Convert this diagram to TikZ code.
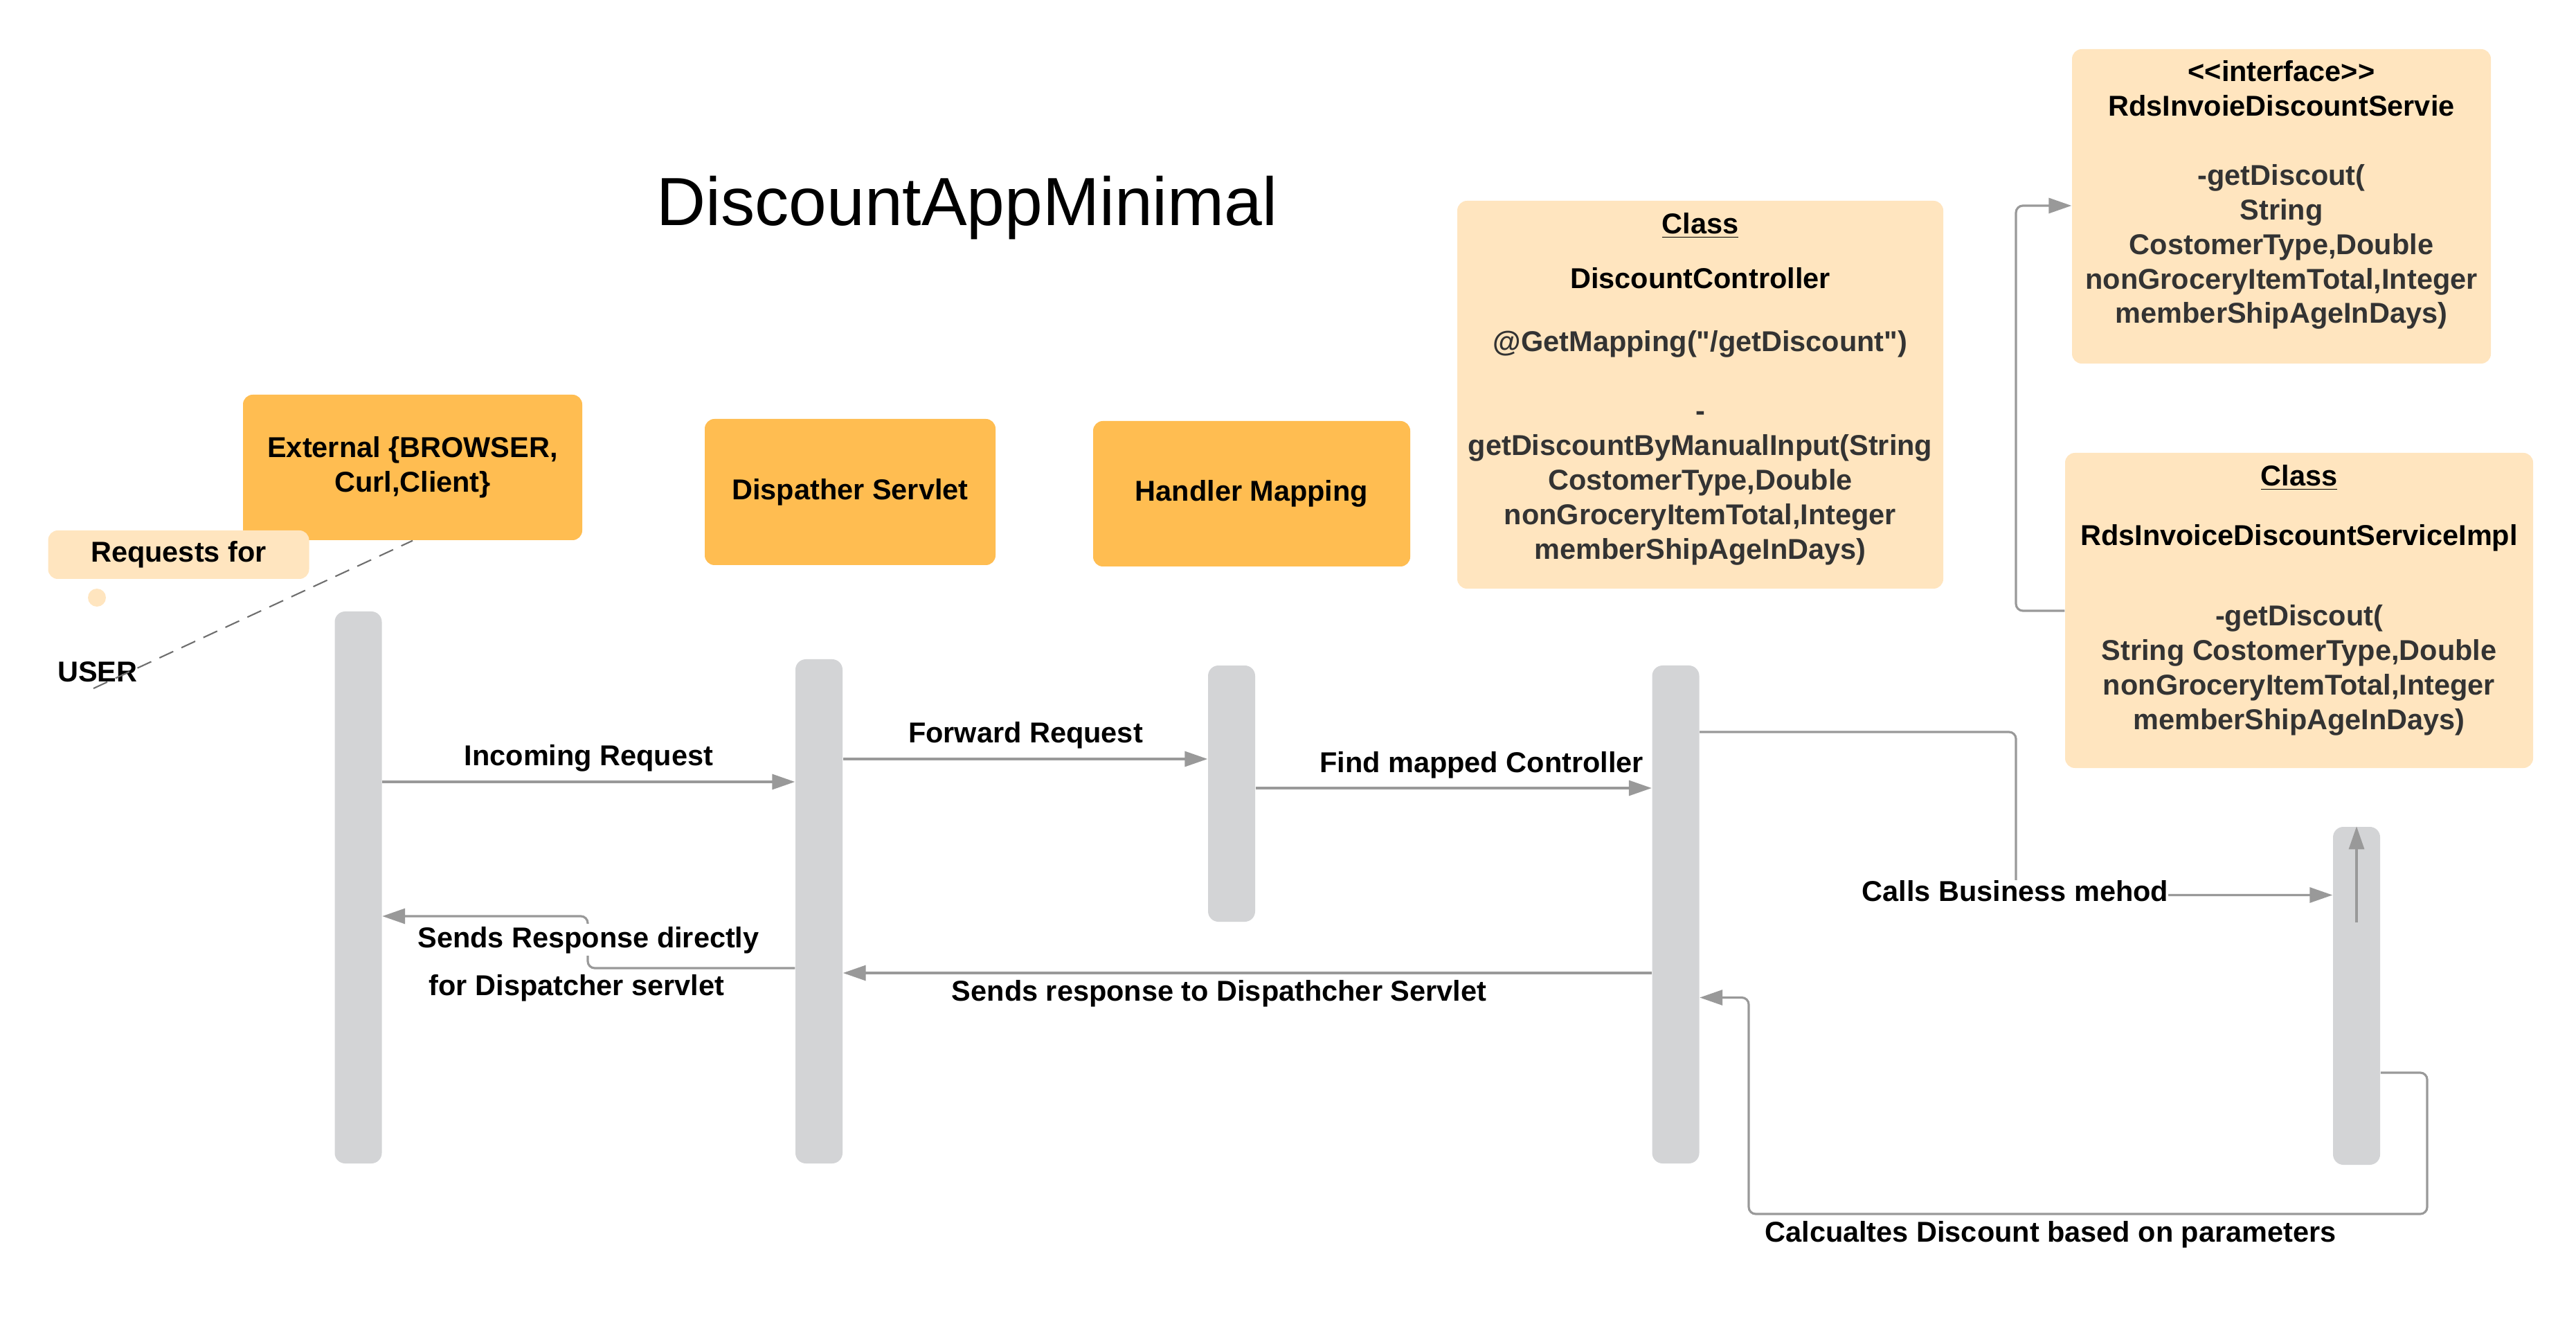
\documentclass[tikz,border=0pt]{standalone}
\usepackage{fontspec}
\setmainfont{Liberation Sans}[Ligatures=TeXOff]
\usepackage{xcolor}
\usepackage{tikz}
\usetikzlibrary{arrows.meta, positioning}

\definecolor{boxOrange}{RGB}{255,189,81}
\definecolor{boxPale}{RGB}{255,229,191}
\definecolor{barGray}{RGB}{211,212,214}
\definecolor{lineGray}{RGB}{153,153,153}
\definecolor{txtGray}{RGB}{51,51,51}
\newcommand{\lblfont}{\fontsize{11.8}{14.2}\selectfont\bfseries}

\begin{document}
\begin{tikzpicture}[every node/.style={font=\lblfont, inner sep=0pt},
    actor/.style={fill=boxOrange, rounded corners=0.14cm, align=center},
    note/.style={fill=boxPale, rounded corners=0.14cm, align=center},
    bar/.style={fill=barGray, rounded corners=0.15cm, minimum width=0.68cm},
    msg/.style={draw=lineGray, line width=0.9pt, -{Triangle[length=0.33cm,width=0.22cm]}},
    elbow/.style={msg, rounded corners=0.1cm},
    lbl/.style={anchor=base}]
  \useasboundingbox (0,0) rectangle (37.21,-19.09);

  \node[lbl, font=\fontsize{28}{34}\selectfont] (title) at (13.97,-3.26) {DiscountAppMinimal};

  % participants
  \node[actor, minimum width=4.90cm, minimum height=2.10cm] (ext) at (5.96,-6.75) {External \{BROWSER,\\Curl,Client\}};
  \node[note, minimum width=3.77cm, minimum height=0.70cm] (req) at (2.58,-8.01) {Requests for};
  \node[note, circle, minimum size=0.26cm] (dot) at (1.40,-8.63) {};
  \node[lbl] (user) at (1.41,-9.85) {USER};
  \node[actor, minimum width=4.20cm, minimum height=2.11cm] (disp) at (12.28,-7.105) {Dispather Servlet};
  \node[actor, minimum width=4.58cm, minimum height=2.10cm] (hmap) at (18.08,-7.13) {Handler Mapping};

  \node[note, minimum width=7.02cm, minimum height=5.60cm] (ctrl) at (24.56,-5.70) {};
  \node[below=0.17cm of ctrl.north, align=center] (ctrltxt) {\underline{Class}\\[0.30cm]
    DiscountController\\[0.41cm]
    {\color{txtGray}@GetMapping("/getDiscount")}\\[0.50cm]
    {\color{txtGray}-}\\
    {\color{txtGray}getDiscountByManualInput(String}\\
    {\color{txtGray}CostomerType,Double}\\
    {\color{txtGray}nonGroceryItemTotal,Integer}\\
    {\color{txtGray}memberShipAgeInDays)}};

  \node[note, minimum width=6.05cm, minimum height=4.54cm] (iface) at (32.955,-2.98) {};
  \node[below=0.165cm of iface.north, align=center] (ifacetxt) {<<interface>>\\
    RdsInvoieDiscountServie\\[0.50cm]
    {\color{txtGray}-getDiscout(}\\
    {\color{txtGray}String}\\
    {\color{txtGray}CostomerType,Double}\\
    {\color{txtGray}nonGroceryItemTotal,Integer}\\
    {\color{txtGray}memberShipAgeInDays)}};

  \node[note, minimum width=6.76cm, minimum height=4.55cm] (impl) at (33.21,-8.815) {};
  \node[below=0.17cm of impl.north, align=center] (impltxt) {\underline{Class}\\[0.37cm]
    RdsInvoiceDiscountServiceImpl\\[0.66cm]
    {\color{txtGray}-getDiscout(}\\
    {\color{txtGray}String CostomerType,Double}\\
    {\color{txtGray}nonGroceryItemTotal,Integer}\\
    {\color{txtGray}memberShipAgeInDays)}};

  % lifelines
  \node[bar, minimum height=7.97cm] (b1) at (5.175,-12.815) {};
  \node[bar, minimum height=7.28cm] (b2) at (11.83,-13.16) {};
  \node[bar, minimum height=3.70cm] (b3) at (17.79,-11.46) {};
  \node[bar, minimum height=7.19cm] (b4) at (24.205,-13.205) {};
  \node[bar, minimum height=4.88cm] (b5) at (34.04,-14.38) {};

  \draw[draw={rgb,255:red,110;green,110;blue,110}, line width=0.6pt, dash pattern=on 0.22cm off 0.13cm]
    ([shift={(-0.06cm,-0.08cm)}]user.south) -- (ext.south);

  % messages
  \draw[msg] (b1.east |- 0,-11.29) -- (b2.west |- 0,-11.29);
  \draw[msg] (b2.east |- 0,-10.96) -- (b3.west |- 0,-10.96);
  \draw[msg] (b3.east |- 0,-11.38) -- (b4.west |- 0,-11.38);
  \draw[elbow] (b4.east |- 0,-10.57) -| (29.12,-12.925) -- (b5.west |- 0,-12.925);
  \draw[msg] (b5.center |- 0,-13.32) -- (b5.north);
  \draw[elbow] (b5.east |- 0,-15.49) -| (35.06,-17.53) -| (25.26,-14.405) -- (b4.east |- 0,-14.405);
  \draw[msg] (b4.west |- 0,-14.05) -- (b2.east |- 0,-14.05);
  \draw[elbow] (b2.west |- 0,-13.98) -| (8.49,-13.23) -- (b1.east |- 0,-13.23);
  \draw[elbow] (impl.west |- 0,-8.82) -| (29.12,-2.97) -- (iface.west |- 0,-2.97);

  \node[lbl] (inc) at (8.505,-11.05) {Incoming Request};
  \node[lbl] (fwd) at (14.815,-10.72) {Forward Request};
  \node[lbl] (find) at (21.40,-11.15) {Find mapped Controller};
  \node[lbl, fill=white] (calls) at (29.11,-13.01) {Calls Business mehod};
  \node[lbl, fill=white, inner sep=1pt] (direct) at (8.50,-13.68) {Sends Response directly};
  \node[lbl] (direct2) at (8.33,-14.37) {for Dispatcher servlet};
  \node[lbl] (back) at (17.61,-14.45) {Sends response to Dispathcher Servlet};
  \node[lbl] (calc) at (29.62,-17.93) {Calcualtes Discount based on parameters};
\end{tikzpicture}
\end{document}
